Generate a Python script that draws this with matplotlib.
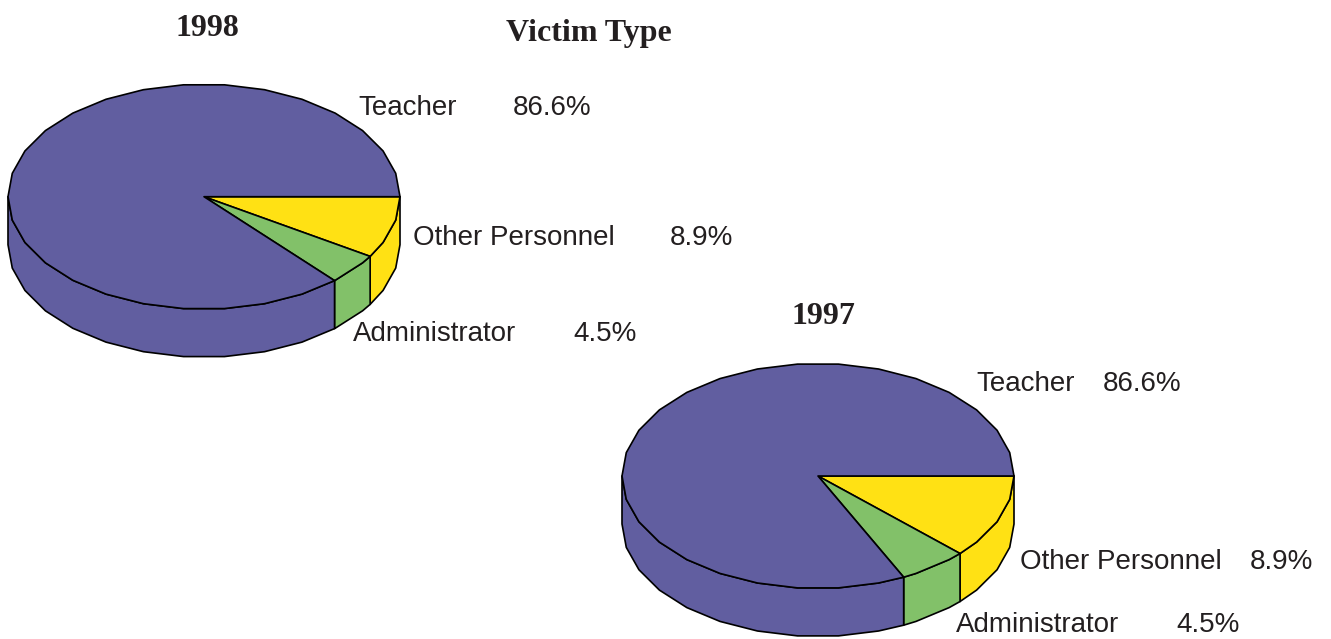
import numpy as np
import matplotlib
matplotlib.use("Agg")
import matplotlib.pyplot as plt
from matplotlib.patches import Polygon

# Slice shares as drawn (clockwise from 3 o'clock), and labelled values
categories = ["Other Personnel", "Administrator", "Teacher"]
slices_1998 = [8.9, 4.5, 86.6]
slices_1997 = [12.1, 5.7, 82.2]
labels_1998 = ["8.9%", "4.5%", "86.6%"]
labels_1997 = ["8.9%", "4.5%", "86.6%"]
colors = ["#FFE114", "#82C169", "#615EA0"]

W, H = 1331, 639
fig = plt.figure(figsize=(W / 100, H / 100), dpi=100, facecolor="white")
ax = fig.add_axes([0, 0, 1, 1])
ax.set_xlim(0, W)
ax.set_ylim(H, 0)
ax.axis("off")

RX, RY, DEPTH, STEP = 196, 112.5, 48, 12


def arc(a0, a1):
    inner = np.arange(np.ceil(a0 / STEP + 1e-9), np.floor(a1 / STEP - 1e-9) + 1) * STEP
    return np.concatenate(([a0], inner, [a1]))


def pt(cx, cy, angs):
    r = np.radians(angs)
    return np.column_stack((cx + RX * np.cos(r), cy + RY * np.sin(r)))


def pie3d(cx, cy, values):
    edges = np.concatenate(([0], np.cumsum(values))) * 360 / sum(values)
    for i, c in enumerate(colors):
        a0, a1 = edges[i], edges[i + 1]
        top = np.vstack(([[cx, cy]], pt(cx, cy, arc(a0, a1))))
        if a0 < 180:
            e = pt(cx, cy, arc(a0, min(a1, 180)))
            low = e[::-1] + [0, DEPTH]
            ax.add_patch(Polygon(np.vstack((e, low)), closed=True, fc=c, ec="black",
                                 lw=1.2, joinstyle="round"))
        ax.add_patch(Polygon(top, closed=True, fc=c, ec="black", lw=1.2, joinstyle="round"))


pie3d(204, 196.7, slices_1998)
pie3d(818, 476, slices_1997)

TXT = "#231F20"
sans = dict(family="Liberation Sans", fontsize=20, color=TXT, va="center", ha="left")
serif = dict(family="Liberation Serif", fontsize=23, fontweight="bold", color=TXT,
             va="center", ha="center")

ax.text(207.5, 29, "1998", **serif)
ax.text(588.5, 33.5, "Victim Type", **serif)
ax.text(823.5, 316, "1997", **serif)

ax.text(358, 108, categories[2], **sans)
ax.text(513, 108, labels_1998[2], **sans)
ax.text(413, 238, categories[0], **sans)
ax.text(670, 238, labels_1998[0], **sans)
ax.text(353, 334, categories[1], **sans)
ax.text(573, 334, labels_1998[1], **sans)

ax.text(976, 384, categories[2], **sans)
ax.text(1103, 384, labels_1997[2], **sans)
ax.text(1020, 562, categories[0], **sans)
ax.text(1250, 562, labels_1997[0], **sans)
ax.text(956, 625.5, categories[1], **sans)
ax.text(1176, 625.5, labels_1997[1], **sans)

fig.savefig("out.png", dpi=100, facecolor="white")
